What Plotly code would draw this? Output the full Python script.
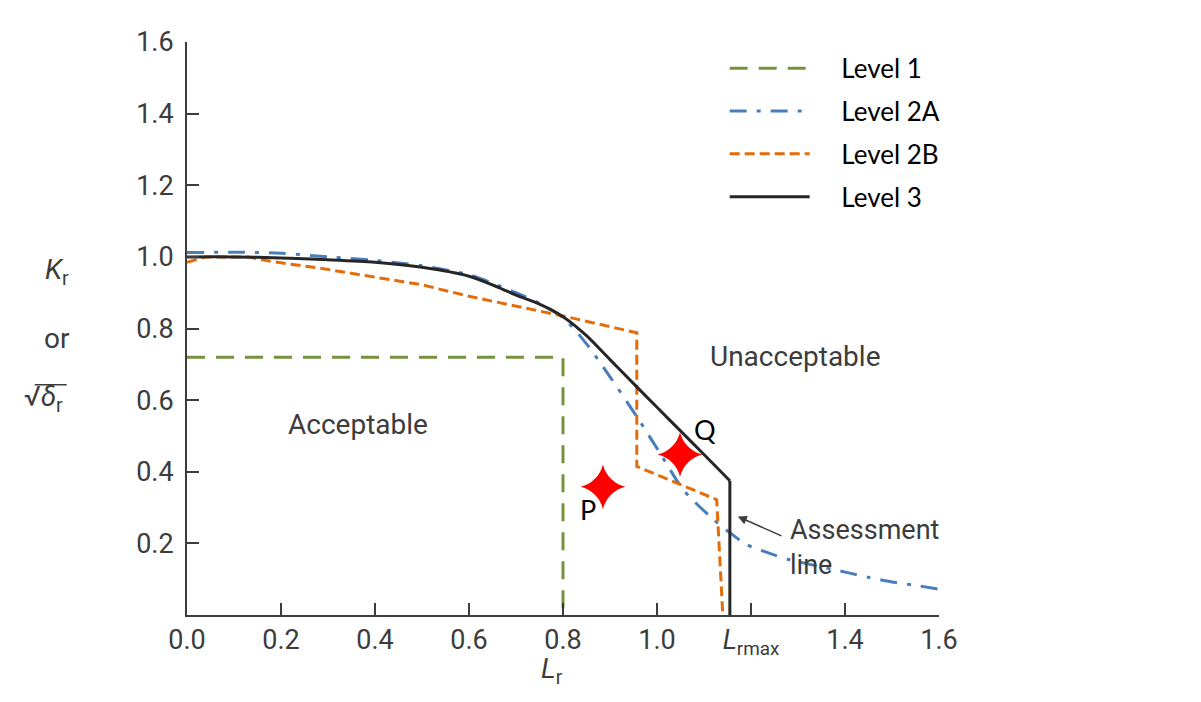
import plotly.graph_objects as go

# ---- data ----
level1_x = [0.0, 0.8, 0.8]
level1_y = [0.72, 0.72, 0.0]

level2a_x = [0.0, 0.1, 0.2, 0.3, 0.4, 0.5, 0.6, 0.666, 0.7, 0.75, 0.8, 0.85, 0.9, 0.957,
             1.006, 1.056, 1.12, 1.16, 1.19, 1.24, 1.28, 1.33, 1.41, 1.45, 1.5, 1.55, 1.6]
level2a_y = [1.012, 1.013, 1.01, 1.0, 0.99, 0.975, 0.95, 0.918, 0.9, 0.87, 0.83, 0.757, 0.665, 0.554,
             0.453, 0.35, 0.267, 0.225, 0.197, 0.172, 0.155, 0.14, 0.117, 0.105, 0.092, 0.083, 0.072]

level2b_x = [0.0, 0.04, 0.13, 0.18, 0.28, 0.39, 0.5, 0.6, 0.8, 0.957, 0.957, 1.127, 1.14]
level2b_y = [0.985, 1.0, 1.0, 0.987, 0.969, 0.946, 0.922, 0.89, 0.835, 0.788, 0.415, 0.322, 0.0]

# Level 3: failure curve up to the Lr,max cut-off, then the vertical cut-off
level3_x = [0.0, 0.1, 0.2, 0.3, 0.4, 0.5, 0.6, 0.666, 0.7, 0.75, 0.8, 0.85, 0.9, 0.957,
            1.0, 1.05, 1.1, 1.155]
level3_y = [1.0, 1.0, 0.997, 0.992, 0.985, 0.971, 0.946, 0.913, 0.893, 0.868, 0.833, 0.78, 0.713, 0.637,
            0.58, 0.514, 0.448, 0.375]
cutoff_x = [1.155, 1.155]
cutoff_y = [0.375, 0.0]

points_x = [0.885, 1.049]
points_y = [0.358, 0.448]

x_tickvals = [0.0, 0.2, 0.4, 0.6, 0.8, 1.0, 1.2, 1.4, 1.6]
x_ticktext = ["0.0", "0.2", "0.4", "0.6", "0.8", "1.0", "<i>L</i><sub>rmax</sub>", "1.4", "1.6"]
y_tickvals = [0.2, 0.4, 0.6, 0.8, 1.0, 1.2, 1.4, 1.6]
y_ticktext = ["0.2", "0.4", "0.6", "0.8", "1.0", "1.2", "1.4", "1.6"]

# ---- style ----
AX = "#3c3c3c"
DIN = "Roboto, sans-serif"
CAL = "Lato, 'Open Sans', sans-serif"
GREEN = "#76923c"
BLUE = "#4a7ebb"
ORANGE = "#e46c0a"
BLACK = "#262626"
PAD = "\u00a0" * 4

fig = go.Figure()
fig.add_trace(go.Scatter(x=level1_x, y=level1_y, mode="lines", name=PAD + "Level 1", legendgroup="a",
                         line=dict(color=GREEN, width=3, dash="18px,11px")))
fig.add_trace(go.Scatter(x=level2a_x, y=level2a_y, mode="lines", name=PAD + "Level 2A", legendgroup="b",
                         line=dict(color=BLUE, width=3, dash="17px,10px,4px,10px", shape="spline",
                                   smoothing=0.8)))
fig.add_trace(go.Scatter(x=level2b_x, y=level2b_y, mode="lines", name=PAD + "Level 2B", legendgroup="c",
                         line=dict(color=ORANGE, width=3, dash="10px,5px")))
fig.add_trace(go.Scatter(x=level3_x, y=level3_y, mode="lines", name=PAD + "Level 3", legendgroup="d",
                         line=dict(color=BLACK, width=3, shape="spline", smoothing=0.8)))
fig.add_trace(go.Scatter(x=cutoff_x, y=cutoff_y, mode="lines", legendgroup="d", showlegend=False,
                         line=dict(color=BLACK, width=3)))
fig.add_trace(go.Scatter(x=points_x, y=points_y, mode="markers", showlegend=False,
                         marker=dict(symbol="star-diamond", size=32, color="#ff0000", line=dict(width=0))))

annotations = [
    dict(x=0.853, y=0.294, text="P", showarrow=False, font=dict(family=CAL, size=27, color="black")),
    dict(x=1.102, y=0.518, text="Q", showarrow=False, font=dict(family=CAL, size=27, color="black")),
    dict(x=0.364, y=0.532, text="Acceptable", showarrow=False, font=dict(family=DIN, size=28, color=AX)),
    dict(x=1.294, y=0.721, text="Unacceptable", showarrow=False, font=dict(family=DIN, size=28, color=AX)),
    dict(x=1.279, y=0.188, text="Assessment<br>line", showarrow=False, xanchor="left", align="left",
         font=dict(family=DIN, size=27, color=AX)),
    dict(x=1.172, y=0.275, ax=1.268, ay=0.219, axref="x", ayref="y", text="", showarrow=True,
         arrowhead=2, arrowsize=1.2, arrowwidth=1.5, arrowcolor=AX),
    dict(x=0.777, y=-0.097, xref="x", yref="paper", yanchor="middle", xanchor="center",
         text="<i>L</i><sub>r</sub>", showarrow=False, font=dict(family=DIN, size=28, color=AX)),
    dict(x=-0.173, y=0.958, xref="paper", yref="y", xanchor="center", yanchor="middle",
         text="<i>K</i><sub>r</sub>", showarrow=False, font=dict(family=DIN, size=28, color=AX)),
    dict(x=-0.173, y=0.772, xref="paper", yref="y", xanchor="center", yanchor="middle",
         text="or", showarrow=False, font=dict(family=DIN, size=28, color=AX)),
    dict(x=-0.191, y=0.605, xref="paper", yref="y", xanchor="center", yanchor="middle",
         text="√<i>δ</i><sub>r</sub>", showarrow=False, font=dict(family=DIN, size=28, color=AX)),
]

fig.update_layout(
    width=1201, height=702, autosize=False,
    margin=dict(l=187, r=262, t=42, b=87),
    paper_bgcolor="white", plot_bgcolor="white",
    showlegend=True,
    legend=dict(x=0.715, y=0.995, xanchor="left", yanchor="top", bgcolor="rgba(0,0,0,0)",
                font=dict(family=CAL, size=26, color="black"), itemwidth=80, tracegroupgap=6),
    annotations=annotations,
    shapes=[dict(type="line", xref="paper", yref="paper", x0=-0.2025, x1=-0.16,
                 y0=(615.5 - 385) / 573.5, y1=(615.5 - 385) / 573.5, line=dict(color=AX, width=1.5))],
    xaxis=dict(range=[0, 1.6], showline=True, linecolor=AX, linewidth=2, ticks="inside", ticklen=12,
               tickwidth=2, tickcolor=AX, tickvals=x_tickvals, ticktext=x_ticktext, showgrid=False,
               zeroline=False, tickfont=dict(family=DIN, size=27, color=AX), ticklabelstandoff=0),
    yaxis=dict(range=[0, 1.6], showline=True, linecolor=AX, linewidth=2, ticks="inside", ticklen=12,
               tickwidth=2, tickcolor=AX, tickvals=y_tickvals, ticktext=y_ticktext, showgrid=False,
               zeroline=False, tickfont=dict(family=DIN, size=27, color=AX), ticklabelstandoff=6),
)

fig.write_html("out.html")
